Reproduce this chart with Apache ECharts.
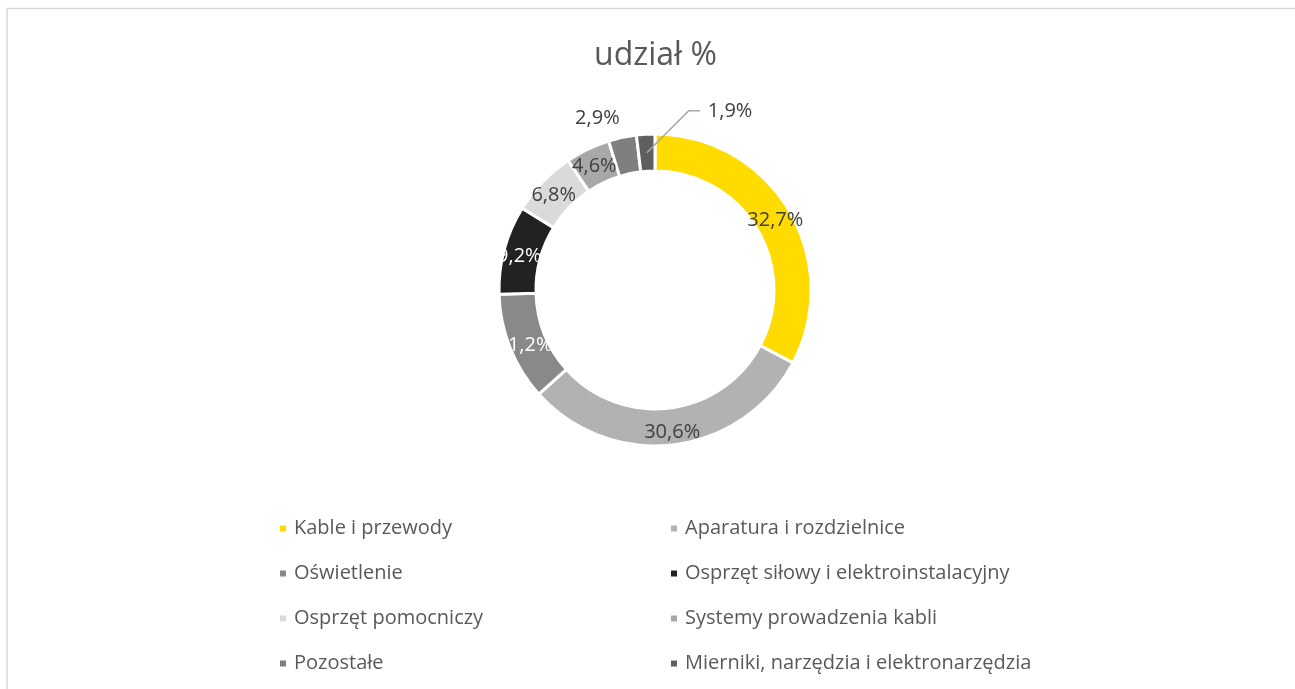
<!DOCTYPE html>
<html>
<head>
<meta charset="utf-8">
<script src="https://cdn.jsdelivr.net/npm/echarts@6/dist/echarts.min.js"></script>
<style>
html,body{margin:0;padding:0;background:#fff;}
#main{width:1295px;height:689px;}
</style>
</head>
<body>
<div id="main"></div>
<script>
const categories = [
  'Kable i przewody',
  'Aparatura i rozdzielnice',
  'Oświetlenie',
  'Osprzęt siłowy i elektroinstalacyjny',
  'Osprzęt pomocniczy',
  'Systemy prowadzenia kabli',
  'Pozostałe',
  'Mierniki, narzędzia i elektronarzędzia'
];
const values = [32.7, 30.6, 11.2, 9.2, 6.8, 4.6, 2.9, 1.9];
const colors = ['#FFDB00', '#B2B2B2', '#898989', '#222222', '#DADADA', '#A8A8A8', '#7F7F7F', '#5F5F5F'];
const labelColors = ['#404040', '#404040', '#FFFFFF', '#FFFFFF', '#404040', '#404040', '#404040', '#404040'];
const titleText = 'udział %';

const FONT = '"Open Sans", "Liberation Sans", sans-serif';
const CENTER = [655, 290];
const R_IN = 119, R_OUT = 156;

const total = values.reduce((a, b) => a + b, 0);
function midAngle(i) {
  let before = 0;
  for (let k = 0; k < i; k++) before += values[k];
  return (before + values[i] / 2) / total * 2 * Math.PI; // clockwise from top
}
function ringPoint(i, r) {
  const a = midAngle(i);
  return [CENTER[0] + r * Math.sin(a), CENTER[1] - r * Math.cos(a)];
}

// leader line geometry for the smallest slice (derived from its mid-angle)
const LEAD_IDX = 7;
const leadP0 = ringPoint(LEAD_IDX, (R_IN + R_OUT) / 2);
const leadP1 = [leadP0[0] + 42, leadP0[1] - 42];
const leadP2 = [leadP1[0] + 11, leadP1[1]];

const data = categories.map((name, i) => {
  const d = {
    name: name,
    value: values[i],
    itemStyle: { color: colors[i] },
    label: { color: labelColors[i] }
  };
  if (i === 6 || i === 7) {
    d.label = { color: labelColors[i], position: 'outside' };
    d.labelLine = { show: false };
  }
  return d;
});

const leftNames = [categories[0], categories[2], categories[4], categories[6]];
const rightNames = [categories[1], categories[3], categories[5], categories[7]];

const legendCommon = {
  orient: 'vertical',
  top: 510,
  itemWidth: 8,
  itemHeight: 8,
  itemGap: 18,
  icon: 'rect',
  selectedMode: false,
  textStyle: { color: '#595959', fontSize: 20, fontFamily: FONT, padding: [0, 0, 0, 2], lineHeight: 27 }
};

const chart = echarts.init(document.getElementById('main'), null, { renderer: 'canvas' });
chart.setOption({
  animation: false,
  backgroundColor: '#ffffff',
  graphic: [{
    type: 'rect',
    shape: { x: 7, y: 8.5, width: 1300, height: 700 },
    style: { fill: 'none', stroke: '#D9D9D9', lineWidth: 1.5 },
    silent: true
  }, {
    type: 'polyline',
    z: 100,
    shape: { points: [leadP0, leadP1, leadP2] },
    style: { fill: 'none', stroke: '#A6A6A6', lineWidth: 1.5 },
    silent: true
  }],
  title: {
    text: titleText,
    left: 589,
    top: 35,
    textStyle: { color: '#595959', fontSize: 32, fontWeight: 'normal', fontFamily: FONT }
  },
  legend: [
    Object.assign({}, legendCommon, { left: 273, data: leftNames }),
    Object.assign({}, legendCommon, { left: 664, data: rightNames })
  ],
  series: [{
    type: 'pie',
    center: CENTER,
    radius: [R_IN, R_OUT],
    startAngle: 90,
    clockwise: true,
    avoidLabelOverlap: false,
    itemStyle: { borderColor: '#ffffff', borderWidth: 3 },
    label: {
      show: true,
      position: 'inside',
      formatter: p => p.value.toFixed(1).replace('.', ',') + '%',
      fontSize: 20,
      fontFamily: FONT
    },
    labelLayout: function (params) {
      const i = params.dataIndex;
      if (i === 6) {
        const p = ringPoint(i, R_OUT);
        return { x: p[0] - 25, y: p[1] - 19, align: 'center', verticalAlign: 'middle' };
      }
      if (i === LEAD_IDX) {
        return { x: leadP2[0] + 8, y: leadP2[1] + 1, align: 'left', verticalAlign: 'middle' };
      }
      return { dy: 3 };
    },
    emphasis: { disabled: true },
    data: data
  }]
});
</script>
</body>
</html>
